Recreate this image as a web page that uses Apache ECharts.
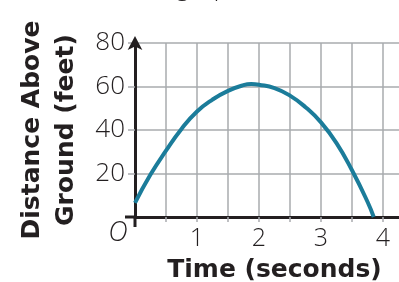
<!DOCTYPE html>
<html>
<head>
<meta charset="utf-8">
<script src="https://cdn.jsdelivr.net/npm/echarts@6/dist/echarts.min.js"></script>
<style>
  html, body { margin: 0; padding: 0; background: #fff; }
  #chart { width: 399px; height: 282px; }
</style>
</head>
<body>
<div id="chart"></div>
<script>
// time (seconds) and height (feet)
const times = [0, 0.25, 0.5, 0.75, 1, 1.25, 1.5, 1.75, 1.875, 2, 2.25, 2.5, 2.75, 3, 3.25, 3.5, 3.75, 3.85];
const heights = [6.5, 19.5, 30.5, 40.5, 48.5, 54, 58, 60.6, 61.1, 60.8, 59.3, 55.8, 50.5, 43.5, 34, 21.5, 7, 0];
const xTickLabels = ['1', '2', '3', '4'];
const yTickLabels = ['20', '40', '60', '80'];

const ink = '#231f20';
const gridGray = '#a9abae';
const curveColor = '#1b7c9a';
const labelFont = '"Open Sans", sans-serif';
const titleFont = '"DejaVu Sans", sans-serif';

const chart = echarts.init(document.getElementById('chart'));

chart.setOption({
  animation: false,
  grid: { left: 135, right: -15, top: 43, bottom: 65, outerBoundsMode: 'none' },
  xAxis: {
    type: 'value',
    min: 0,
    max: 4.5,
    interval: 0.5,
    name: 'Time (seconds)',
    nameLocation: 'middle',
    nameGap: 41,
    nameTextStyle: { color: ink, fontFamily: titleFont, fontWeight: 'bold', fontSize: 25 },
    axisLine: { show: true, onZero: false, lineStyle: { color: ink, width: 3 } },
    axisTick: { show: true, length: 5, lineStyle: { color: gridGray, width: 1.5 } },
    axisLabel: {
      margin: 9,
      color: ink,
      fontFamily: labelFont,
      fontWeight: 300,
      fontSize: 25,
      formatter: v => xTickLabels.indexOf(String(v)) >= 0 ? String(v) : ''
    },
    splitLine: { show: true, lineStyle: { color: gridGray, width: 1.5 } }
  },
  yAxis: {
    type: 'value',
    min: 0,
    max: 80,
    interval: 20,
    name: 'Distance Above\nGround (feet)',
    nameLocation: 'middle',
    nameGap: 52,
    nameTextStyle: { color: ink, fontFamily: titleFont, fontWeight: 'bold', fontSize: 25, lineHeight: 34 },
    axisLine: {
      show: true,
      onZero: false,
      symbol: ['none', 'arrow'],
      symbolSize: [11, 14],
      symbolOffset: [0, 7],
      lineStyle: { color: ink, width: 3 }
    },
    axisTick: { show: true, length: 7, lineStyle: { color: gridGray, width: 1.5 } },
    axisLabel: {
      margin: 10,
      color: ink,
      fontFamily: labelFont,
      fontWeight: 300,
      fontSize: 26,
      formatter: v => yTickLabels.indexOf(String(v)) >= 0 ? String(v) : ''
    },
    splitLine: { show: true, lineStyle: { color: gridGray, width: 1.5 } }
  },
  series: [
    {
      type: 'line',
      data: times.map((t, i) => [t, heights[i]]),
      smooth: 0.5,
      symbol: 'none',
      lineStyle: { color: curveColor, width: 4 },
      z: 3
    }
  ]
});

// small axis overhangs, origin label and the cut-off heading above
const origin = chart.convertToPixel({ gridIndex: 0 }, [0, 0]);
chart.setOption({
  graphic: [
    {
      type: 'line',
      shape: { x1: origin[0], y1: origin[1], x2: origin[0], y2: origin[1] + 10 },
      style: { stroke: ink, lineWidth: 3 },
      z: 10
    },
    {
      type: 'line',
      shape: { x1: origin[0] - 10, y1: origin[1], x2: origin[0], y2: origin[1] },
      style: { stroke: ink, lineWidth: 3 },
      z: 10
    },
    {
      type: 'text',
      x: origin[0] - 17,
      y: origin[1] + 16,
      style: {
        text: 'O',
        fill: ink,
        font: 'italic 300 27px "Open Sans", sans-serif',
        align: 'center',
        verticalAlign: 'middle'
      }
    },
    {
      type: 'text',
      x: 176,
      y: -12,
      style: {
        text: 'graph',
        fill: ink,
        font: '300 26px "Open Sans", sans-serif',
        align: 'left',
        verticalAlign: 'middle'
      }
    }
  ]
});
</script>
</body>
</html>
